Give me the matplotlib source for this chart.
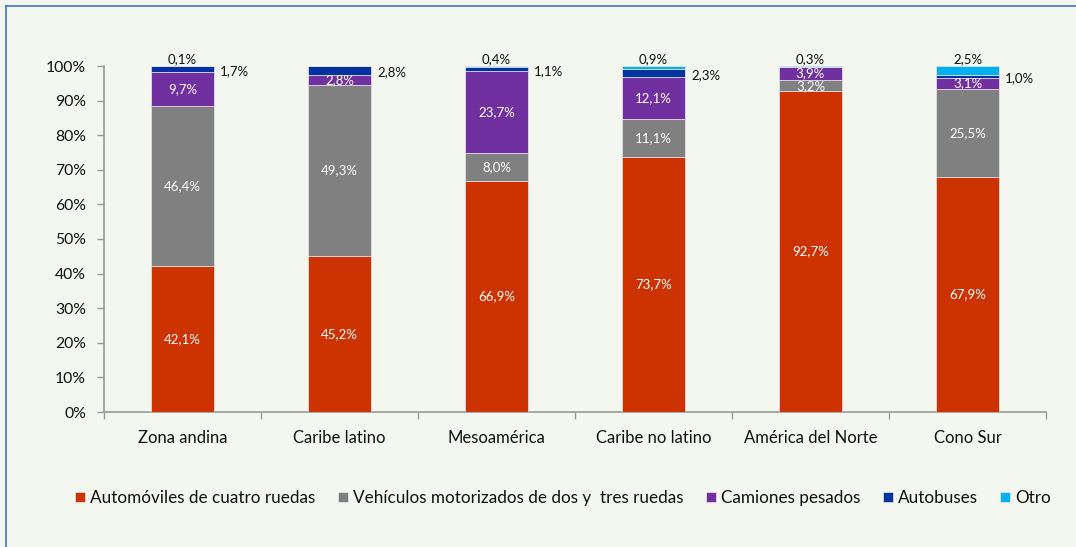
import matplotlib
matplotlib.use("Agg")
import matplotlib.pyplot as plt
import numpy as np
from matplotlib.lines import Line2D

plt.rcParams['font.family'] = ['Lato', 'DejaVu Sans']

categories = ["Zona andina", "Caribe latino", "Mesoamérica", "Caribe no latino", "América del Norte", "Cono Sur"]
series_names = ["Automóviles de cuatro ruedas", "Vehículos motorizados de dos y  tres ruedas",
                "Camiones pesados", "Autobuses", "Otro"]
automoviles = [42.1, 45.2, 66.9, 73.7, 92.7, 67.9]
dos_tres = [46.4, 49.3, 8.0, 11.1, 3.2, 25.5]
camiones = [9.7, 2.8, 23.7, 12.1, 3.9, 3.1]
autobuses = [1.7, 2.8, 1.1, 2.3, 0.0, 1.0]
otro = [0.1, 0.0, 0.4, 0.9, 0.3, 2.5]
colors = ["#CC3300", "#808080", "#7030A0", "#0033A0", "#00B0F0"]
yticks = [0, 10, 20, 30, 40, 50, 60, 70, 80, 90, 100]

bg = "#F4F7EF"
fig = plt.figure(figsize=(10.76, 5.47), dpi=100, facecolor=bg)
ax = fig.add_axes([104/1076, 1-412/547, (1046-104)/1076, (412-66)/547])
ax.set_facecolor(bg)

x = np.arange(len(categories))
width = 0.4
data = [automoviles, dos_tres, camiones, autobuses, otro]
bottom = np.zeros(len(categories))
for i, (vals, col, name) in enumerate(zip(data, colors, series_names)):
    vals = np.array(vals)
    ax.bar(x, vals, width, bottom=bottom, color=col, label=name,
           edgecolor="#EDE6EE", linewidth=0.5, zorder=3)
    for j, v in enumerate(vals):
        if v <= 0:
            continue
        lab = f"{v:.1f}".replace(".", ",") + "%"
        if i <= 2:
            ax.text(x[j], bottom[j] + v/2, lab, ha="center", va="center",
                    color="white", fontsize=9.5, zorder=4)
        elif i == 3:
            ax.text(x[j] + width/2 + 0.04, bottom[j] + v/2 - 0.6, lab, ha="left", va="center",
                    color="#111111", fontsize=9.5, zorder=4)
        else:
            ax.text(x[j], bottom[j] + v + 0.2, lab, ha="center", va="bottom",
                    color="#111111", fontsize=9.5, zorder=4)
    bottom += vals

ax.set_xlim(-0.5, len(categories) - 0.5)
ax.set_ylim(0, 100)
ax.set_yticks(yticks)
ax.set_yticklabels([f"{t}%" for t in yticks], fontsize=11.3, color="#111111")
ax.set_xticks(x)
ax.set_xticklabels(categories, fontsize=12, color="#111111")
ax.tick_params(axis="x", which="major", length=0, pad=13)
ax.set_xticks(np.arange(-0.5, len(categories)), minor=True)
ax.tick_params(axis="x", which="minor", length=5, color="#999999", width=1)
ax.tick_params(axis="y", length=5, color="#999999", width=1, pad=8)
for s in ["top", "right"]:
    ax.spines[s].set_visible(False)
for s in ["left", "bottom"]:
    ax.spines[s].set_color("#999999")
    ax.spines[s].set_linewidth(1.2)

leg = fig.legend(loc="center", bbox_to_anchor=(563/1076, 1-498/547), ncol=5, frameon=False,
                 fontsize=12.3, handlelength=0.6, handleheight=0.6, handletextpad=0.3,
                 columnspacing=1.3)
for t in leg.get_texts():
    t.set_color("#111111")

# figure border (top and left)
fig.add_artist(Line2D([6/1076, 6/1076], [0, 1-6/547], transform=fig.transFigure, color="#4472C4", lw=1.2))
fig.add_artist(Line2D([6/1076, 1], [1-6/547, 1-6/547], transform=fig.transFigure, color="#4472C4", lw=1.2))

fig.savefig("out.png", dpi=100, facecolor=bg)
